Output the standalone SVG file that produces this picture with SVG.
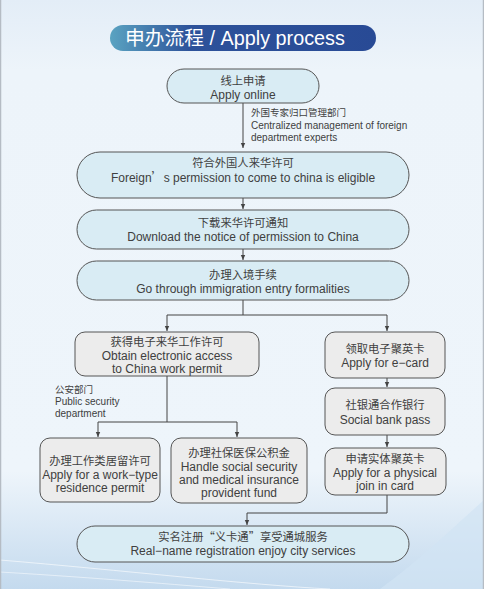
<svg xmlns="http://www.w3.org/2000/svg" width="484" height="589" viewBox="0 0 484 589">
<defs>
<linearGradient id="bg" x1="0" y1="0" x2="0" y2="1">
<stop offset="0" stop-color="#e3edf7"/>
<stop offset="0.12" stop-color="#edf4fa"/>
<stop offset="0.8" stop-color="#eef5fb"/>
<stop offset="1" stop-color="#c4daee"/>
</linearGradient>
<linearGradient id="title" x1="0" y1="0" x2="1" y2="0">
<stop offset="0" stop-color="#5aa3c1"/>
<stop offset="0.3" stop-color="#2d529a"/>
<stop offset="1" stop-color="#284a95"/>
</linearGradient>
<marker id="ah" markerWidth="6" markerHeight="6" refX="5" refY="3" orient="auto" markerUnits="userSpaceOnUse">
<path d="M0,0.8 L5,3 L0,5.2 Z" fill="#444"/>
</marker>
<style>
.pill{fill:#d9ecf4;stroke:#555;stroke-width:1}
.box{fill:#ececec;stroke:#555;stroke-width:1}
.zh{font-family:"Noto Sans CJK SC","Liberation Sans",sans-serif;font-size:11.3px;fill:#404040;text-anchor:middle}
.en{font-family:"Liberation Sans","Noto Sans CJK SC",sans-serif;font-size:12px;fill:#404040;text-anchor:middle}
.lz{font-family:"Noto Sans CJK SC","Liberation Sans",sans-serif;font-size:9.5px;fill:#404040}
.le{font-family:"Liberation Sans",sans-serif;font-size:10px;fill:#404040}
.ln{fill:none;stroke:#444;stroke-width:1}
.ar{fill:none;stroke:#444;stroke-width:1;marker-end:url(#ah)}
</style>
</defs>
<rect x="0" y="0" width="484" height="589" fill="url(#bg)"/>
<path d="M380,589 C420,560 450,530 484,500 L484,589 Z" fill="#d2e4f3" opacity="0.7"/>
<path d="M0,560 C120,570 250,585 330,589" fill="none" stroke="#ffffff" stroke-width="1" opacity="0.6"/>
<path d="M0,572 C100,578 180,585 230,589" fill="none" stroke="#ffffff" stroke-width="1" opacity="0.5"/>
<rect x="0.5" y="-1" width="483" height="591" fill="none" stroke="#b5bcc4" stroke-width="1.5"/>

<g id="title-bar">
<rect x="110" y="25" width="266" height="26" rx="13" fill="url(#title)"/>
<text x="125" y="45" font-family="Liberation Sans,Noto Sans CJK SC,sans-serif" font-size="19.8" fill="#ffffff">申办流程 / Apply process</text>
</g>

<g id="connectors">
<line class="ar" x1="243" y1="103" x2="243" y2="148"/>
<line class="ar" x1="243" y1="198" x2="243" y2="209"/>
<line class="ar" x1="243" y1="249" x2="243" y2="260"/>
<line class="ln" x1="243" y1="300" x2="243" y2="315"/>
<line class="ln" x1="167" y1="315" x2="387" y2="315"/>
<line class="ar" x1="167" y1="315" x2="167" y2="331"/>
<line class="ar" x1="387" y1="315" x2="387" y2="331"/>
<line class="ln" x1="167" y1="376" x2="167" y2="422"/>
<line class="ln" x1="98" y1="422" x2="237" y2="422"/>
<line class="ar" x1="98" y1="422" x2="98" y2="437"/>
<line class="ar" x1="237" y1="422" x2="237" y2="437"/>
<line class="ar" x1="387" y1="378" x2="387" y2="387"/>
<line class="ar" x1="387" y1="435" x2="387" y2="447"/>
<polyline class="ln" points="387,495 387,513 247,513"/>
<line class="ar" x1="247" y1="513" x2="247" y2="525"/>
</g>

<g id="label-foreign-experts">
<text class="lz" x="251" y="116">外国专家归口管理部门</text>
<text class="le" x="251" y="129">Centralized management of foreign</text>
<text class="le" x="251" y="141">department  experts</text>
</g>
<g id="label-public-security">
<text class="lz" x="55" y="393">公安部门</text>
<text class="le" x="55" y="405">Public security</text>
<text class="le" x="55" y="417">department</text>
</g>

<g id="n-apply-online">
<rect class="pill" x="167" y="69" width="152" height="34" rx="17"/>
<text class="zh" x="243" y="85">线上申请</text>
<text class="en" x="243" y="99">Apply online</text>
</g>
<g id="n-permission-eligible">
<rect class="pill" x="77" y="152" width="332" height="46" rx="23"/>
<text class="zh" x="243" y="167">符合外国人来华许可</text>
<text class="en" x="243" y="182">Foreign<tspan font-family="Noto Sans CJK SC,sans-serif">’</tspan>s permission to come to china is eligible</text>
</g>
<g id="n-download-notice">
<rect class="pill" x="77" y="210" width="332" height="39" rx="19.5"/>
<text class="zh" x="243" y="227">下载来华许可通知</text>
<text class="en" x="243" y="241">Download the notice of permission to China</text>
</g>
<g id="n-immigration">
<rect class="pill" x="77" y="261" width="332" height="39" rx="19.5"/>
<text class="zh" x="243" y="279">办理入境手续</text>
<text class="en" x="243" y="293">Go through immigration entry formalities</text>
</g>
<g id="n-work-permit">
<rect class="box" x="75" y="332" width="184" height="44" rx="10"/>
<text class="zh" x="167" y="346">获得电子来华工作许可</text>
<text class="en" x="167" y="360">Obtain electronic access</text>
<text class="en" x="167" y="373">to China work permit</text>
</g>
<g id="n-residence-permit">
<rect class="box" x="40" y="438" width="120" height="64" rx="10"/>
<text class="zh" x="100" y="465">办理工作类居留许可</text>
<text class="en" x="100" y="479">Apply for a work−type</text>
<text class="en" x="100" y="492">residence permit</text>
</g>
<g id="n-social-security">
<rect class="box" x="171" y="438" width="136" height="65" rx="10"/>
<text class="zh" x="239" y="457">办理社保医保公积金</text>
<text class="en" x="239" y="471">Handle social security</text>
<text class="en" x="239" y="484">and medical insurance</text>
<text class="en" x="239" y="497">provident fund</text>
</g>
<g id="n-ecard">
<rect class="box" x="325" y="332" width="120" height="46" rx="10"/>
<text class="zh" x="385" y="353">领取电子聚英卡</text>
<text class="en" x="385" y="367">Apply for e−card</text>
</g>
<g id="n-bank">
<rect class="box" x="325" y="388" width="120" height="47" rx="10"/>
<text class="zh" x="385" y="409">社银通合作银行</text>
<text class="en" x="385" y="424">Social bank pass</text>
</g>
<g id="n-physical-card">
<rect class="box" x="325" y="448" width="121" height="47" rx="10"/>
<text class="zh" x="385" y="463">申请实体聚英卡</text>
<text class="en" x="385" y="477">Apply for a physical</text>
<text class="en" x="385" y="490">join in card</text>
</g>
<g id="n-real-name">
<rect class="pill" x="77" y="526" width="332" height="36" rx="18"/>
<text class="zh" x="243" y="541">实名注册“义卡通”享受通城服务</text>
<text class="en" x="243" y="555">Real−name registration enjoy city services</text>
</g>
</svg>
